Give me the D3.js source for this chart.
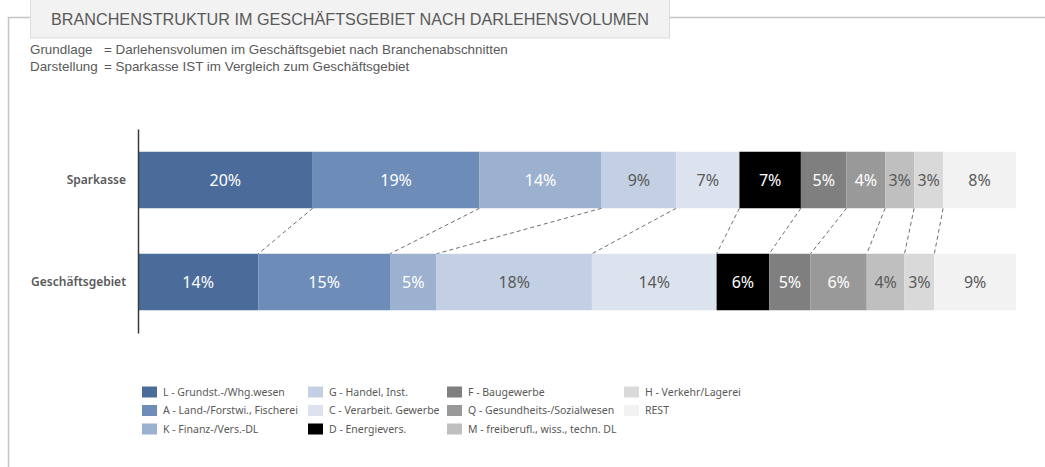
<!DOCTYPE html>
<html>
<head>
<meta charset="utf-8">
<script src="https://cdn.jsdelivr.net/npm/d3@7"></script>
<style>
  html, body { margin: 0; padding: 0; background: #fff; }
  svg { display: block; }
</style>
</head>
<body>
<svg id="chart" width="1045" height="467"></svg>
<script>
// ---- data ----
const title = "BRANCHENSTRUKTUR IM GESCHÄFTSGEBIET NACH DARLEHENSVOLUMEN";
const subtitleKeys = ["Grundlage", "Darstellung"];
const subtitleValues = ["= Darlehensvolumen im Geschäftsgebiet nach Branchenabschnitten",
                        "= Sparkasse IST im Vergleich zum Geschäftsgebiet"];
const rows = ["Sparkasse", "Geschäftsgebiet"];
const sectors = ["L - Grundst.-/Whg.wesen", "A - Land-/Forstwi., Fischerei", "K - Finanz-/Vers.-DL",
                 "G - Handel, Inst.", "C - Verarbeit. Gewerbe", "D - Energievers.",
                 "F - Baugewerbe", "Q - Gesundheits-/Sozialwesen", "M - freiberufl., wiss., techn. DL",
                 "H - Verkehr/Lagerei", "REST"];
const sparkasse       = [19.9, 19.0, 13.9, 8.5, 7.2, 7.0, 5.2, 4.4, 3.3, 3.3, 8.3];
const geschaeftsgebiet = [13.7, 15.0, 5.3, 17.7, 14.2, 6.0, 4.7, 6.4, 4.3, 3.4, 9.3];

// ---- styles ----
const colors = ["#4b6b9b", "#6d8cb8", "#9cb0cf", "#c3cfe2", "#dde3ee", "#000000",
                "#7f7f7f", "#999999", "#bfbfbf", "#d9d9d9", "#f2f2f2"];
const textGrey = "#595959";

const svg = d3.select("#chart");

// frame + title box
svg.append("path")
  .attr("d", "M8.5,467 V17.5 H30 M670,17.5 H1045")
  .attr("fill", "none").attr("stroke", "#c4c4c4").attr("stroke-width", 1.5);
svg.append("rect")
  .attr("x", 30.5).attr("y", -1).attr("width", 639).attr("height", 39)
  .attr("fill", "#f2f2f2").attr("stroke", "#dcdcdc");
svg.append("text")
  .attr("x", 51).attr("y", 25)
  .attr("font-family", "'Liberation Sans', Arial, sans-serif")
  .attr("font-size", 16.2).attr("fill", textGrey)
  .text(title);

subtitleKeys.forEach((k, i) => {
  const g = svg.append("g").attr("font-family", "'Liberation Sans', Arial, sans-serif")
    .attr("font-size", 13.4).attr("fill", textGrey);
  g.append("text").attr("x", 30).attr("y", 54 + i * 17).text(k);
  g.append("text").attr("x", 104).attr("y", 54 + i * 17).text(subtitleValues[i]);
});

// scales
const x = d3.scaleLinear().domain([0, 100]).range([138, 1016]);
const y = d3.scaleBand().domain(rows).range([129, 333]).paddingInner(0.446).paddingOuter(0.223);

const seriesByRow = { "Sparkasse": sparkasse, "Geschäftsgebiet": geschaeftsgebiet };
const stacked = rows.map(r => {
  let acc = 0;
  return seriesByRow[r].map((v, i) => {
    const d = { row: r, i, v, x0: acc, x1: acc + v };
    acc += v;
    return d;
  });
});

// connector dashed lines
const conn = [];
for (let i = 0; i < sectors.length - 1; i++) {
  conn.push({ a: stacked[0][i].x1, b: stacked[1][i].x1 });
}
svg.append("g").selectAll("line").data(conn).join("line")
  .attr("x1", d => x(d.a)).attr("y1", y(rows[0]) + y.bandwidth())
  .attr("x2", d => x(d.b)).attr("y2", y(rows[1]))
  .attr("stroke", "#6e6e6e").attr("stroke-width", 1)
  .attr("stroke-dasharray", "4,3");

// bars
const fontBars = "'Noto Sans', 'Open Sans', sans-serif";
stacked.forEach(rowData => {
  const g = svg.append("g");
  g.selectAll("rect").data(rowData).join("rect")
    .attr("x", d => x(d.x0)).attr("width", d => x(d.x1) - x(d.x0))
    .attr("y", d => y(d.row)).attr("height", y.bandwidth())
    .attr("fill", d => colors[d.i]);
  g.selectAll("text").data(rowData).join("text")
    .attr("x", d => (x(d.x0) + x(d.x1)) / 2)
    .attr("y", d => y(d.row) + y.bandwidth() / 2)
    .attr("dy", "0.35em")
    .attr("text-anchor", "middle")
    .attr("font-family", fontBars).attr("font-size", 16)
    .attr("fill", d => d3.hsl(colors[d.i]).l < 0.73 ? "#ffffff" : textGrey)
    .text(d => Math.round(d.v) + "%");
});

// axis
const axis = svg.append("g").attr("transform", "translate(138,0)")
  .call(d3.axisLeft(y).tickSize(0).tickPadding(12));
axis.select(".domain").attr("stroke", "#3a3a3a").attr("stroke-width", 1.5);
axis.selectAll("text")
  .attr("font-family", fontBars).attr("font-size", 12).attr("font-weight", 600)
  .attr("fill", textGrey);

// legend
const legendCols = [142, 308, 447, 624];
const legendRows = [392, 410.5, 429];
const leg = svg.append("g").selectAll("g").data(sectors).join("g")
  .attr("transform", (d, i) => `translate(${legendCols[Math.floor(i / 3)]},${legendRows[i % 3]})`);
leg.append("rect").attr("x", 0).attr("y", -5.5).attr("width", 15).attr("height", 11)
  .attr("fill", (d, i) => colors[i]);
leg.append("text").attr("x", 21).attr("y", 0).attr("dy", "0.35em")
  .attr("font-family", fontBars).attr("font-size", 10.5).attr("fill", textGrey)
  .text(d => d);
</script>
</body>
</html>
